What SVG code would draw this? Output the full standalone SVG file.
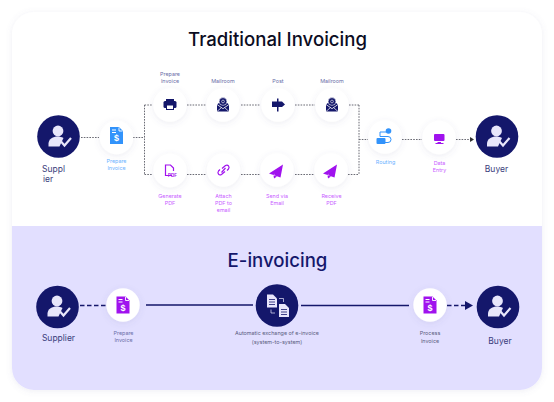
<svg xmlns="http://www.w3.org/2000/svg" width="554" height="402" viewBox="0 0 554 402">
<style>
text{font-family:"Inter","Noto Sans","Liberation Sans",sans-serif;text-anchor:middle}
.t{font-size:18.600px;font-weight:500}
.s{font-size:5.400px}
.n{fill:#6a6ea8}.p{fill:#c85cff}.b{fill:#6bb2ff}.d{fill:#5a5d80}
.who{font-size:8.500px;fill:#3a3d7c}
.dot{fill:none;stroke:#6a6b74;stroke-width:1;stroke-dasharray:1.6 1.2}
.dash{fill:none;stroke:#14176b;stroke-width:1.6;stroke-dasharray:4.5 2.5}
.sol{fill:none;stroke:#14176b;stroke-width:1.600}
.wc{fill:#fff;filter:url(#sh)}
.nc{fill:#14176b}
</style>
<defs>
<filter id="sh" x="-40%" y="-40%" width="180%" height="180%"><feDropShadow dx="0" dy="1.500" stdDeviation="3" flood-color="#5a5a90" flood-opacity=".11"/></filter>
<filter id="cs" x="-5%" y="-5%" width="110%" height="110%"><feDropShadow dx="0" dy="1" stdDeviation="3" flood-color="#7070a0" flood-opacity=".12"/></filter>
<clipPath id="cc"><rect x="12" y="12" width="530" height="378" rx="22"/></clipPath>
<g id="person">
<circle cx="-.5" cy="-6" r="5.400" fill="#e8e6fb"/>
<path d="M-10 9.500V6.500C-10 2-5-.5-1-.5C1.500-.5 3 0 5 1L1 9.500z" fill="#e8e6fb"/>
<path d="M2.500 4.500L6 8.500L12.500 1" fill="none" stroke="#e8e6fb" stroke-width="2.200"/>
</g>
<g id="doc"><path d="M-6.500-8.500H2.500L6.500-4.500V8.500H-6.500z"/><path d="M-4.500-5.500H-.5M-4.500-3H-.5" stroke="#fff" stroke-width="1"/><path d="M2.500-8V-4.500H6" fill="none" stroke="#fff" stroke-width=".9"/><text x="0" y="5.800" style="font-size:9px;font-weight:700;fill:#fff;font-family:'Liberation Sans',sans-serif">$</text></g>
<g id="mail"><path d="M-6 -.5L0 3.500L6 -.5V6.500H-6z" fill="#14176b"/><path d="M-6-.5L-3.500-2.500H3.500L6-.5L0 3.500z" fill="#14176b"/><circle cx="0" cy="-3.500" r="3.900" fill="#14176b" stroke="#fff" stroke-width=".6"/><circle cx="0" cy="-3.500" r="1.400" fill="none" stroke="#fff" stroke-width=".6"/><path d="M-6-.5L0 3.700L6-.5M-6 6.500L-1.500 2.500M6 6.500L1.500 2.500" fill="none" stroke="#fff" stroke-width=".7"/></g>
<g id="plane" fill="#a012ee"><path d="M6-7.500L-8 1.500L-3.500 3L-2 1.500L-3 3.200L3.500 5.500z"/><path d="M-3.500 3.500L-3 6.500L0 4.500z"/></g>
</defs>
<rect width="554" height="402" fill="#fff"/>
<rect x="12" y="12" width="530" height="378" rx="22" fill="#fff" filter="url(#cs)"/>
<rect x="12" y="226" width="530" height="164" fill="#e2dfff" clip-path="url(#cc)"/>
<text class="t" x="277.500" y="46" fill="#0b0c22">Traditional Invoicing</text>
<text class="t" x="277.500" y="267" fill="#14176b">E-invoicing</text>
<g id="connectors">
<path class="dot" d="M81 137.500H99M133 137.500H144.500M144.500 105V174.500M144.500 105H152M144.500 174.500H152M187 105H206M241 105H260M295 105H315M349 105H359M187 174.500H206M241 174.500H260M295 174.500H314M348 174.500H359M359 105V174.500M359 139.500H368M402 139.500H422M456 139.500H472"/>
<path d="M470 137L474 139.500L470 142z" fill="#333"/>
<path class="dash" d="M80 305.500H107"/>
<path class="sol" d="M146 305H253M301 305.500H409"/>
<path class="dash" d="M447 305.500H466"/>
<path d="M465 301L473 305.500L465 310z" fill="#14176b"/>
</g>
<g id="supplier-top"><circle class="nc" cx="58.500" cy="136.500" r="21.300"/><use href="#person" x="58.500" y="137"/><text class="who" x="53.500" y="172">Suppl</text><text class="who" x="48" y="181.500">ier</text></g>
<g id="prepare-top"><circle class="wc" cx="116.500" cy="137.500" r="16.700"/><use href="#doc" x="116.500" y="135.500" fill="#3293fb"/><text class="s b" x="116.500" y="162.500">Prepare</text><text class="s b" x="116.500" y="170">Invoice</text></g>
<g id="printer"><circle class="wc" cx="170" cy="105" r="16.700"/><rect x="166" y="99" width="8" height="3" fill="#14176b"/><rect x="163.500" y="101" width="13" height="7" rx="1.500" fill="#14176b"/><rect x="166.500" y="105" width="7" height="4.500" fill="#fff" stroke="#14176b"/><text class="s n" x="170" y="76">Prepare</text><text class="s n" x="170" y="83">Invoice</text></g>
<g id="mailroom-1"><circle class="wc" cx="223" cy="105" r="16.700"/><use href="#mail" x="223" y="105"/><text class="s n" x="223" y="83">Mailroom</text></g>
<g id="post"><circle class="wc" cx="278" cy="105" r="16.700"/><path d="M277 98.500h1.500v13h-1.500z" fill="#14176b"/><path d="M272 101.500H282L285 104.500L282 107H272z" fill="#14176b"/><text class="s n" x="278" y="83">Post</text></g>
<g id="mailroom-2"><circle class="wc" cx="332" cy="105" r="16.700"/><use href="#mail" x="332" y="105"/><text class="s n" x="332" y="83">Mailroom</text></g>
<g id="generate"><circle class="wc" cx="170" cy="170.500" r="16.700"/><path d="M172 175.500H165.500V165H170.500L173.500 168V171" fill="none" stroke="#a012ee" stroke-width="1.200"/><text x="172.500" y="176.500" style="font-size:4.500px;font-weight:700;fill:#a012ee">PDF</text><text class="s p" x="170" y="198">Generate</text><text class="s p" x="170" y="205">PDF</text></g>
<g id="attach"><circle class="wc" cx="223.500" cy="170" r="16.700"/><path d="M222 168.500L225.500 165.500C228 164 230 167 228.500 169L227 170.500M225 171.500L221.500 174.500C219 176 217 173 218.500 171L220 169.500M221.500 172.500L225.500 168" fill="none" stroke="#a012ee" stroke-width="1.200"/><text class="s p" x="223.500" y="198">Attach</text><text class="s p" x="223.500" y="205">PDF to</text><text class="s p" x="223.500" y="212">email</text></g>
<g id="send"><circle class="wc" cx="277" cy="170" r="16.700"/><use href="#plane" x="277" y="172"/><text class="s p" x="277" y="198">Send via</text><text class="s p" x="277" y="205">Email</text></g>
<g id="receive"><circle class="wc" cx="331" cy="170" r="16.700"/><use href="#plane" x="331" y="172"/><text class="s p" x="331.500" y="198">Receive</text><text class="s p" x="331.500" y="205">PDF</text></g>
<g id="routing"><circle class="wc" cx="385" cy="137" r="16.700"/><rect x="376.500" y="138" width="9" height="6" rx="1" fill="#3293fb"/><circle cx="388.500" cy="131" r="2.800" fill="#3293fb"/><path d="M386 132H380V136.500H388A2.500 2.500 0 0 1 388 142.500H385" fill="none" stroke="#3293fb" stroke-width="1"/><text class="s b" x="385.500" y="164">Routing</text></g>
<g id="data"><circle class="wc" cx="439" cy="137.500" r="16.700"/><rect x="434" y="134" width="10.500" height="7" rx="1" fill="#a012ee"/><path d="M437.500 142.500h3.500M435.500 143.500h8" stroke="#a012ee" fill="none"/><text class="s p" x="439.500" y="165">Data</text><text class="s p" x="439.500" y="172">Entry</text></g>
<g id="buyer-top"><circle class="nc" cx="497" cy="136.500" r="21.300"/><use href="#person" x="497" y="137"/><text class="who" x="496.500" y="171.500">Buyer</text></g>
<g id="supplier-bottom"><circle class="nc" cx="57.500" cy="307" r="21.300"/><use href="#person" x="57.500" y="307"/><text class="who" x="58.500" y="341">Supplier</text></g>
<g id="prepare-bottom"><circle class="wc" cx="123" cy="305" r="16.700"/><use href="#doc" x="123" y="305" fill="#a012ee"/><text class="s n" x="123.500" y="335">Prepare</text><text class="s n" x="123.500" y="342">Invoice</text></g>
<g id="exchange"><circle class="nc" cx="277" cy="305.500" r="21.300"/>
<path d="M267 294.500H273L277 298.500V307.500H267z" fill="#e8e6fb"/><path d="M269 299.500H275M269 302H275M269 304.500H275" stroke="#14176b" stroke-width=".8"/>
<path d="M279 304H285L289 308V317H279z" fill="#e8e6fb"/><path d="M281 309.500H287M281 312H287M281 314.500H287" stroke="#14176b" stroke-width=".8"/>
<path d="M279 298.500H283.500V302M275 313H271V309.500" fill="none" stroke="#e8e6fb" stroke-width=".7"/>
<text class="s d" x="277" y="335">Automatic exchange of e-invoice</text><text class="s d" x="277" y="344">(system-to-system)</text></g>
<g id="process"><circle class="wc" cx="430" cy="305" r="16.700"/><use href="#doc" x="430" y="305" fill="#a012ee"/><text class="s d" x="430" y="334.500">Process</text><text class="s d" x="430" y="343">Invoice</text></g>
<g id="buyer-bottom"><circle class="nc" cx="498" cy="307" r="21.300"/><use href="#person" x="498" y="307"/><text class="who" x="500" y="344">Buyer</text></g>
</svg>
